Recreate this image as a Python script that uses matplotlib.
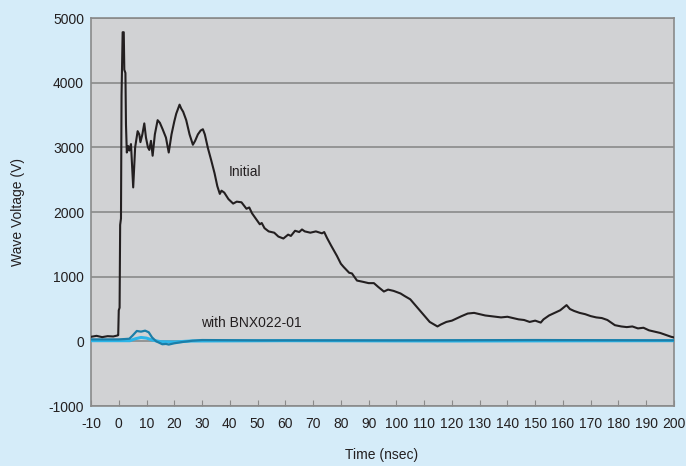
import numpy as np
import matplotlib
matplotlib.use('Agg')
import matplotlib.pyplot as plt

plt.rcParams['font.family'] = ['Liberation Sans', 'DejaVu Sans']
plt.rcParams['axes.unicode_minus'] = False

# Initial waveform (time in nsec, voltage in V)
initial_t = [-10, -8, -6, -4, -2, -0.5, -0.2, 0.0, 0.3, 0.5, 0.8, 1.0, 1.4, 1.8, 2.0,
             2.4, 2.6, 2.9, 3.4, 3.8, 4.4, 5.2, 5.9, 6.8, 7.4, 7.8, 8.5, 9.2, 9.8, 10.5,
             11, 11.6, 12.2, 13, 14, 14.8, 15.8, 17, 18, 19, 20, 20.7, 21.9, 22.5, 23.2,
             24.3, 25.5, 26.7, 27.5, 28.5, 29.5, 30.3, 31, 32.1, 33.3, 34.5, 35.5, 36.4, 37, 38,
             39.5, 41.2, 42.5, 44.2, 46, 47, 48, 50.8, 51.5, 52.5, 54, 56, 57.5, 59.3, 61, 62, 63.5, 65,
             66, 67, 69, 71, 73.2, 74, 75, 76.5, 78.6, 80, 81, 83, 84, 85.8, 88, 90, 91.9, 93.5, 95.5,
             97, 99, 101.5, 103, 105, 107.6, 110, 112, 114.8, 116, 118, 120, 122, 123.5, 125.7,
             128, 130, 132, 134, 137.7, 140, 142, 144, 146, 148, 150, 152, 153, 155, 157,
             159, 161.3, 162.5, 164, 166, 168, 170, 172, 174, 176, 178.7, 181, 183, 185, 187,
             189, 191, 193, 195, 197, 199, 200]
initial_v = [70, 85, 65, 80, 75, 90, 95, 480, 520, 1800, 1900, 3800, 4780, 4780, 4200,
             4150, 3350, 2920, 3020, 2950, 3050, 2380, 3000, 3250, 3200, 3080, 3200, 3370, 3150, 3000,
             2960, 3100, 2870, 3200, 3420, 3380, 3280, 3150, 2920, 3200, 3400, 3520, 3660, 3600, 3550,
             3420, 3200, 3040, 3100, 3200, 3260, 3280, 3200, 2990, 2800, 2600, 2400, 2280, 2330, 2300,
             2200, 2130, 2160, 2150, 2050, 2070, 1980, 1810, 1830, 1750, 1700, 1680, 1620, 1590, 1650, 1630, 1710, 1690,
             1730, 1700, 1680, 1700, 1670, 1690, 1600, 1480, 1320, 1200, 1150, 1060, 1050, 940, 920, 900, 900, 840, 770,
             800, 780, 740, 700, 650, 520, 400, 300, 230, 260, 300, 320, 360, 390, 430,
             440, 420, 400, 390, 370, 380, 360, 340, 330, 300, 320, 290, 340, 400, 440,
             480, 560, 500, 470, 440, 420, 390, 370, 360, 330, 250, 230, 220, 230, 200,
             210, 170, 150, 130, 100, 70, 60]

# with BNX022-01 (two traces)
bnx_dark_t = [-10, 0, 2, 3.8, 5, 6.5, 8, 9.5, 10.8, 12, 13.5, 15.7, 17, 18, 20, 23, 26.6, 30, 50, 100, 150, 200]
bnx_dark_v = [30, 30, 35, 40, 90, 160, 150, 165, 140, 60, 0, -45, -40, -50, -30, -10, 10, 20, 15, 15, 20, 15]
bnx_light_t = [-10, 0, 4, 6, 8, 10, 12, 15, 20, 26, 60, 120, 200]
bnx_light_v = [10, 10, 10, 40, 60, 50, 20, -5, -10, 5, 10, 5, 10]

x_ticks = np.arange(-10, 201, 10)
y_ticks = np.arange(-1000, 5001, 1000)

fig = plt.figure(figsize=(6.86, 4.66), dpi=100)
fig.patch.set_facecolor('#d5ecf9')
ax = fig.add_axes([91 / 686, 1 - 406 / 466, 583 / 686, 388 / 466])
ax.set_facecolor('#d1d2d4')

ax.plot(bnx_light_t, bnx_light_v, color='#2cb5e8', lw=2.2, zorder=3)
ax.plot(bnx_dark_t, bnx_dark_v, color='#1b7ea8', lw=1.6, zorder=4)
ax.plot(initial_t, initial_v, color='#231f20', lw=1.5, zorder=5)

ax.set_xlim(-10, 200)
ax.set_ylim(-1000, 5000)
ax.set_xticks(x_ticks)
ax.set_yticks(y_ticks)
ax.yaxis.grid(True, color='#8a8a8a', lw=1.2)
ax.set_axisbelow(True)
ax.tick_params(axis='x', direction='in', length=4, color='#8a8a8a', labelsize=10,
               labelcolor='#231f20', pad=8)
ax.tick_params(axis='y', length=0, labelsize=10, labelcolor='#231f20', pad=5)
for s in ax.spines.values():
    s.set_color('#8a8a8a')
    s.set_linewidth(1.2)

ax.text(39.5, 2620, 'Initial', fontsize=10, color='#231f20', va='center')
ax.text(29.5, 280, 'with BNX022-01', fontsize=10, color='#231f20', va='center')

fig.text(18 / 686, 1 - 212 / 466, 'Wave Voltage (V)', rotation=90, ha='center', va='center',
         fontsize=10, color='#231f20')
fig.text(382 / 686, 1 - 455 / 466, 'Time (nsec)', ha='center', va='center',
         fontsize=10, color='#231f20')

fig.savefig('out.png', dpi=100, facecolor=fig.get_facecolor())
